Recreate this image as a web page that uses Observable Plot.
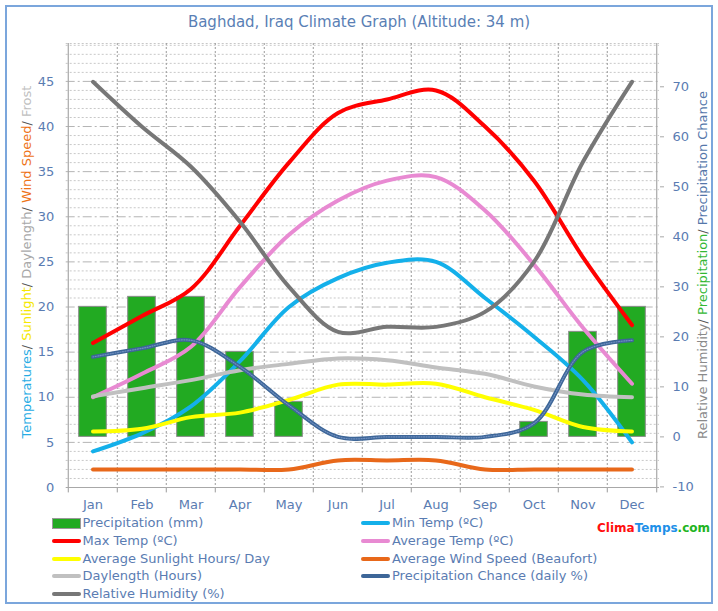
<!DOCTYPE html>
<html><head><meta charset="utf-8">
<script src="https://cdn.jsdelivr.net/npm/d3@7"></script>
<script src="https://cdn.jsdelivr.net/npm/@observablehq/plot@0.6"></script>
<style>
body{margin:0;background:#fff;font-family:"DejaVu Sans",sans-serif;}
#wrap{position:relative;width:718px;height:611px;overflow:hidden;background:#fff;}
#frame{position:absolute;left:5px;top:5px;width:704px;height:595px;border:2px solid #7ba6dc;box-sizing:content-box;}
#title{position:absolute;left:0;top:12px;width:718px;text-align:center;font-size:15px;color:#5a7fb5;line-height:20px;}
#chart{position:absolute;left:0;top:0;}
.leg{position:absolute;font-size:13px;color:#5a7cb2;line-height:16px;white-space:nowrap;}
.sw{position:absolute;}
#logo{position:absolute;left:597px;top:521px;font-size:12px;font-weight:bold;white-space:nowrap;}
</style></head>
<body>
<div id="wrap">
<div id="frame"></div>
<div id="title">Baghdad, Iraq Climate Graph (Altitude: 34 m)</div>
<div id="chart"></div>
<div id="legend"></div>
<div id="logo"><span style="color:#ff1010">Clima</span><span style="color:#1e90e8">Temps</span><span style="color:#22b422">.com</span></div>
</div>
<script>
// ---- data ----
const months = ["Jan","Feb","Mar","Apr","May","Jun","Jul","Aug","Sep","Oct","Nov","Dec"];
const precipitation = [26,28,28,17,7,0,0,0,0,3,21,26];          // mm (right axis)
const minTemp   = [4,6,9,14,20,23.2,24.9,25,21,16.7,11.9,5];
const maxTemp   = [16,19,22,29,36,41.5,43,44,40,34,25.5,18];
const avgTemp   = [10,12.6,15.6,22.2,28,31.8,34,34.4,30.7,24.7,17.7,11.5];
const sunlight  = [6.2,6.5,7.8,8.3,9.7,11.4,11.4,11.5,10,8.6,6.7,6.2];
const windSpeed = [2,2,2,2,2,3,3,3,2,2,2,2];
const daylength = [10.1,11,11.9,13,13.7,14.3,14.1,13.3,12.6,11.2,10.3,10];
const precipChance = [16,17.7,19.3,14,6.3,0,0,0,0,2.7,17,19.3]; // % (right axis)
const humidity  = [71,62,54,43,30,21,22,22,25,35,55,71];        // % (right axis)
const leftTicks = [0,5,10,15,20,25,30,35,40,45];
const rightTicks = [-10,0,10,20,30,40,50,60,70];

const seriesNames = ["Precipitation (mm)","Min Temp (ºC)","Max Temp (ºC)","Average Temp (ºC)",
  "Average Sunlight Hours/ Day","Average Wind Speed (Beaufort)","Daylength (Hours)",
  "Precipitation Chance (daily %)","Relative Humidity (%)"];
const seriesColors = ["#22aa22","#14b0ea","#ff0000","#e88ad2","#ffff00","#e8681a","#c0c0c0","#3d6698","#777777"];

// right axis values -> left axis units
const R = r => (r + 10.12) * 0.5542;
const Rinv = l => Math.round(l / 0.5542 - 10.12);

const rows = months.map((m,i)=>({m, prec:precipitation[i], minT:minTemp[i], maxT:maxTemp[i], avgT:avgTemp[i],
  sun:sunlight[i], wind:windSpeed[i], day:daylength[i], chance:precipChance[i], hum:humidity[i]}));

const W = 718, H = 512, mL = 65.7, mR = 59, mT = 43, mB = 25;
const step = (W - mL - mR) / months.length;
const txt = "#5a7cb2";

const lineSpecs = [
  {y:"minT", c:1}, {y:"maxT", c:2}, {y:"avgT", c:3}, {y:"sun", c:4},
  {y:"wind", c:5}, {y:"day", c:6}, {y:d=>R(d.chance), c:7}, {y:d=>R(d.hum), c:8}
];

const plot = Plot.plot({
  width: W, height: H,
  marginLeft: mL, marginRight: mR, marginTop: mT, marginBottom: mB,
  style: {background:"transparent", overflow:"visible", fontFamily:"DejaVu Sans, sans-serif"},
  x: {type:"band", domain: months, padding: 0, label: null},
  y: {domain:[0, 49.2], label: null},
  marks: [
    // horizontal grid
    Plot.ruleY(d3.range(1, 50).filter(v => v % 5 !== 0), {stroke:"#c8c8c8", strokeDasharray:"2,2", strokeWidth:1}),
    Plot.ruleY([49.2], {stroke:"#c8c8c8", strokeDasharray:"2,2"}),
    Plot.ruleY(leftTicks.filter(v=>v>0), {stroke:"#b4b4b4", strokeDasharray:"9,3,2,3", strokeWidth:1}),
    // vertical grid at band boundaries
    Plot.ruleX(months.slice(1), {x:d=>d, dx:-step/2, stroke:"#9a9a9a", strokeDasharray:"2,2"}),
    // bottom stubs
    Plot.ruleX(months, {x:d=>d, dx:-step/2, y1:0, y2:-0.6, stroke:"#9a9a9a"}),
    Plot.ruleX(["Dec"], {x:d=>d, dx:step/2, y1:0, y2:-0.6, stroke:"#9a9a9a"}),
    // frame lines
    Plot.ruleY([0], {stroke:"#a8a8a8", strokeWidth:1.2}),
    Plot.ruleX(["Jan"], {x:d=>d, dx:-step/2, stroke:"#a8a8a8", strokeWidth:1.2}),
    Plot.ruleX(["Dec"], {x:d=>d, dx:step/2, stroke:"#a8a8a8", strokeWidth:1.2}),
    // precipitation bars
    Plot.barY(rows.filter(d=>d.prec>0), {x:"m", y1:R(0), y2:d=>R(d.prec), fill:seriesColors[0], stroke:"#8a8a8a", strokeWidth:1, insetLeft:10.7, insetRight:10.7}),
    // lines
    ...lineSpecs.map(s => Plot.line(rows, {x:"m", y:s.y, stroke:seriesColors[s.c], strokeWidth:4, curve:"catmull-rom", strokeLinecap:"round", strokeLinejoin:"round"})),
    Plot.line(rows, {x:"m", y:d=>R(d.chance), stroke:"#6f8fc0", strokeWidth:1.2, strokeDasharray:"1,1.5", curve:"catmull-rom"}),
    // axes
    Plot.axisY(leftTicks, {anchor:"left", tickSize:0, tickPadding:12, fill:txt, fontSize:13, label:null}),
    Plot.axisY(rightTicks.map(R), {anchor:"right", tickSize:4, tickPadding:9, stroke:"#a8a8a8", fill:txt, fontSize:13, tickFormat:Rinv, label:null}),
    Plot.axisX({tickSize:0, tickPadding:12, fill:txt, fontSize:13, label:null})
  ]
});
document.getElementById("chart").appendChild(plot);

// rotated multicoloured axis titles
const svg = d3.select(plot);
function vtitle(x, y, parts){
  const t = svg.append("text").attr("transform",`translate(${x},${y}) rotate(-90)`)
    .attr("text-anchor","middle").attr("dominant-baseline","middle")
    .style("font-size","13px").style("font-family","DejaVu Sans, sans-serif");
  parts.forEach(([s,c]) => t.append("tspan").text(s).attr("fill",c));
}
vtitle(27, 262, [["Temperatures","#27ace4"],["/ ","#555"],["Sunlight","#f5e800"],["/ ","#555"],
  ["Daylength","#a8a8a8"],["/ ","#555"],["Wind Speed","#ee7418"],["/ ","#555"],["Frost","#c0c0c0"]]);
vtitle(703, 265, [["Relative Humidity","#8a8a8a"],["/ ","#555"],["Precipitation","#33b833"],["/ ","#555"],
  ["Precipitation Chance","#5577aa"]]);

// legend
const leg = document.getElementById("legend");
const col1 = [0,2,4,6,8], col2 = [1,3,5,7];
const rowY = [523.3, 541, 558.5, 576.2, 594];
function addItem(idx, row, x0){
  const y = rowY[row];
  const sw = document.createElement("div");
  sw.className = "sw";
  if (idx === 0){
    Object.assign(sw.style,{left:x0+"px", top:(y-5)+"px", width:"27px", height:"9px", background:seriesColors[0], border:"1px solid #999"});
  } else {
    Object.assign(sw.style,{left:x0+"px", top:(y-2)+"px", width:"29px", height:"4px", background:seriesColors[idx], borderRadius:"2px"});
  }
  leg.appendChild(sw);
  const t = document.createElement("div");
  t.className = "leg";
  t.textContent = seriesNames[idx];
  Object.assign(t.style,{left:(x0+31)+"px", top:(y-8)+"px"});
  leg.appendChild(t);
}
col1.forEach((idx,r)=>addItem(idx,r,51.5));
col2.forEach((idx,r)=>addItem(idx,r,361));
</script>
</body></html>
